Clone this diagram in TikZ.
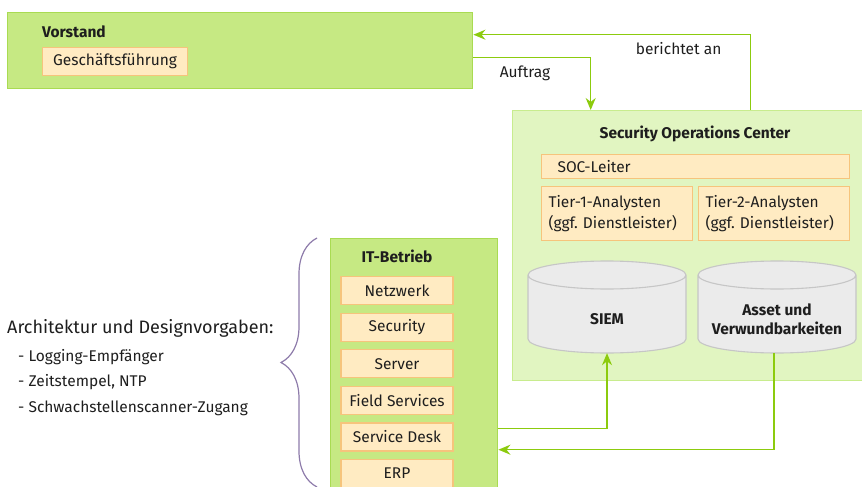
\documentclass[tikz,border=0pt]{standalone}
\usepackage{fontspec}
\setmainfont{Fira Sans}
\usetikzlibrary{positioning,arrows.meta,decorations.pathreplacing}
\frenchspacing

\definecolor{unitfill}{HTML}{C6E983}
\definecolor{unitline}{HTML}{A9DB52}
\definecolor{socfill}{HTML}{E1F5C1}
\definecolor{socline}{HTML}{C8EC8E}
\definecolor{rolefill}{HTML}{FFEBC2}
\definecolor{roleline}{HTML}{F6C47C}
\definecolor{flowcol}{HTML}{8CCB0E}
\definecolor{dbfill}{HTML}{EBEBEB}
\definecolor{dbline}{HTML}{C6C6C6}
\definecolor{bracecol}{HTML}{8D7BAA}
\definecolor{ink}{HTML}{1E1E1E}

\begin{document}
\begin{tikzpicture}[x=1pt,y=-1pt,text=ink,
  font=\fontsize{15.5}{21}\selectfont,
  unit/.style={draw=unitline,fill=unitfill,line width=1.4pt,anchor=north west},
  soc/.style={draw=socline,fill=socfill,line width=1.4pt,anchor=north west},
  role/.style={draw=roleline,fill=rolefill,line width=1.1pt,inner sep=0pt},
  dept/.style={role,minimum width=112pt,minimum height=28pt},
  dbshape/.style={draw=dbline,fill=dbfill,line width=1.1pt},
  db/.style={minimum width=158pt,minimum height=68pt,align=center,
    font=\fontsize{15.5}{19.5}\selectfont\bfseries},
  flow/.style={draw=flowcol,line width=1.5pt,-{Stealth[length=12pt,width=10pt]}},
  title/.style={font=\fontsize{15.5}{19}\selectfont\bfseries}]
  \useasboundingbox (0,0) rectangle (862,487);

  % boxes
  \node[unit,minimum width=465pt,minimum height=76pt] (vorstand) at (7,12) {};
  \node[soc,minimum width=360pt,minimum height=270pt] (socbox) at (512,110) {};
  \node[unit,minimum width=167pt,minimum height=256pt] (itb) at (330,238) {};

  % Vorstand
  \node[title,anchor=west,inner sep=0pt] (vtitle) at (42,32) {Vorstand};
  \node[role,anchor=north west,minimum width=145pt,minimum height=28pt] (gf) at (42,47) {Gesch\"aftsf\"uhrung};

  % SOC
  \node[title] (soctitle) at (695,134) {Security Operations Center};
  \node[role,anchor=north west,minimum width=308pt,minimum height=24pt,
    text width=276pt,align=left,inner xsep=16pt] (lead) at (541,154) {SOC-Leiter};
  \node[role,anchor=north west,minimum width=151pt,minimum height=54pt,
    text width=137pt,align=left,inner xsep=7pt] (tier1) at (541,186) {Tier-1-Analysten\\(ggf. Dienstleister)};
  \node[role,anchor=north west,minimum width=151pt,minimum height=54pt,
    text width=137pt,align=left,inner xsep=7pt] (tier2) at (698,186) {Tier-2-Analysten\\(ggf. Dienstleister)};

  % Datenbanken
  \coordinate (siemc) at (607,319);
  \coordinate (assetc) at (777,319);
  \foreach \c in {siemc,assetc}
    \draw[dbshape] ([shift={(-79,-44)}]\c) -- ([shift={(-79,20)}]\c)
      arc[start angle=180,end angle=360,x radius=79pt,y radius=14pt]
      -- ([shift={(79,-44)}]\c)
      arc[start angle=0,end angle=180,x radius=79pt,y radius=14pt] -- cycle
      ([shift={(-79,-44)}]\c)
      arc[start angle=180,end angle=360,x radius=79pt,y radius=14pt];
  \node[db] (siem) at (siemc) {SIEM};
  \node[db] (asset) at (assetc) {Asset und\\Verwundbarkeiten};

  % IT-Betrieb
  \node[title] (ittitle) at (397,256) {IT-Betrieb};
  \node[dept,anchor=north] (net) at (397,276) {Netzwerk};
  \node[dept,below=7.5pt of net] (sec) {Security};
  \node[dept,below=7.5pt of sec] (srv) {Server};
  \node[dept,below=7.5pt of srv] (field) {Field Services};
  \node[dept,below=7.5pt of field] (desk) {Service Desk};
  \node[dept,below=7.5pt of desk] (erp) {ERP};

  % Vorgaben
  \node[anchor=west,inner sep=0pt,font=\fontsize{18}{21}\selectfont] (arch) at (7,328) {Architektur und Designvorgaben:};
  \node[anchor=north west,align=left,inner sep=0pt,font=\fontsize{15.5}{25.5}\selectfont] (list) at (18,349)
    {- Logging-Empf\"anger\\- Zeitstempel, NTP\\- Schwachstellenscanner-Zugang};
  \draw[bracecol,line width=1.2pt,decorate,decoration={brace,amplitude=36pt}]
    (317,487) -- (317,238);

  % connectors
  \draw[flow] ([yshift=-7pt]vorstand.east) -| ([xshift=-102pt]socbox.north)
    node[pos=0.22,below=4pt,text=ink] {Auftrag};
  \draw[flow] ([xshift=58pt]socbox.north) |- ([yshift=16pt]vorstand.east)
    node[pos=0.63,below=4pt,text=ink] {berichtet an};
  \draw[flow] ([yshift=-62pt]itb.east) -| (siem.south);
  \draw[flow] ([xshift=-3pt]asset.south) |- ([yshift=-83pt]itb.east);
\end{tikzpicture}
\end{document}
